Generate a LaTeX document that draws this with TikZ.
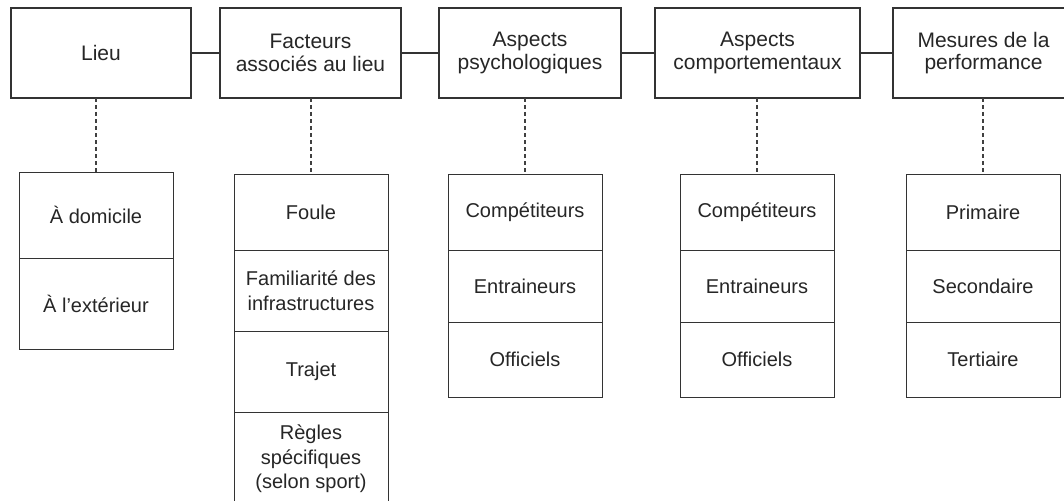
\documentclass[tikz,border=0pt]{standalone}
\usepackage{fontspec}
\setmainfont{Liberation Sans}
\begin{document}
\begin{tikzpicture}[x=1pt,y=-1pt,
  every node/.style={inner sep=0pt, outer sep=0pt, align=center, text=black!85},
  topbox/.style={draw=black!80, line width=1.2pt, minimum height=90pt,
    font=\fontsize{21}{22.5}\selectfont},
  rowbox/.style={draw=black!80, line width=1pt, minimum width=154pt,
    font=\fontsize{20}{24.5}\selectfont},
  link/.style={draw=black!80, line width=1.2pt},
  dashlink/.style={draw=black!75, line width=1.3pt, dash pattern=on 4pt off 3pt}
]
\useasboundingbox (0,0) rectangle (1064,500);
\fill[white] (0,0) rectangle (1064,500);

% top boxes
\node[topbox, minimum width=180pt] (b1) at (101,53) {Lieu};
\node[topbox, minimum width=181pt] (b2) at (310.5,53) {Facteurs\\associés au lieu};
\node[topbox, minimum width=182pt] (b3) at (530,53) {Aspects\\psychologiques};
\node[topbox, minimum width=205pt] (b4) at (757.5,53) {Aspects\\comportementaux};
\node[topbox, minimum width=181pt] (b5) at (983.5,53) {Mesures de la\\performance};

% column 1
\node[rowbox, minimum height=86pt] (c1a) at (96,215) {À domicile};
\node[rowbox, minimum height=91pt] (c1b) at (96,303.5) {À l’extérieur};

% column 2
\node[rowbox, minimum height=76pt] (c2a) at (311,212) {Foule};
\node[rowbox, minimum height=81pt] (c2b) at (311,290.5) {Familiarité des\\infrastructures};
\node[rowbox, minimum height=81pt] (c2c) at (311,371.5) {Trajet};
\node[rowbox, minimum height=94pt] (c2d) at (311,459) {Règles\\spécifiques\\(selon sport)};

% column 3
\node[rowbox, minimum height=76pt] (c3a) at (525,212) {Compétiteurs};
\node[rowbox, minimum height=72pt] (c3b) at (525,286) {Entraineurs};
\node[rowbox, minimum height=75pt] (c3c) at (525,359.5) {Officiels};

% column 4
\node[rowbox, minimum height=76pt] (c4a) at (757,212) {Compétiteurs};
\node[rowbox, minimum height=72pt] (c4b) at (757,286) {Entraineurs};
\node[rowbox, minimum height=75pt] (c4c) at (757,359.5) {Officiels};

% column 5
\node[rowbox, minimum height=76pt] (c5a) at (983,212) {Primaire};
\node[rowbox, minimum height=72pt] (c5b) at (983,286) {Secondaire};
\node[rowbox, minimum height=75pt] (c5c) at (983,359.5) {Tertiaire};

% horizontal links
\draw[link] (b1.east) -- (b2.west);
\draw[link] (b2.east) -- (b3.west);
\draw[link] (b3.east) -- (b4.west);
\draw[link] (b4.east) -- (b5.west);

% dashed links
\draw[dashlink] (b1.south -| c1a.north) -- (c1a.north);
\draw[dashlink] (b2.south -| c2a.north) -- (c2a.north);
\draw[dashlink] (b3.south -| c3a.north) -- (c3a.north);
\draw[dashlink] (b4.south -| c4a.north) -- (c4a.north);
\draw[dashlink] (b5.south -| c5a.north) -- (c5a.north);
\end{tikzpicture}
\end{document}
